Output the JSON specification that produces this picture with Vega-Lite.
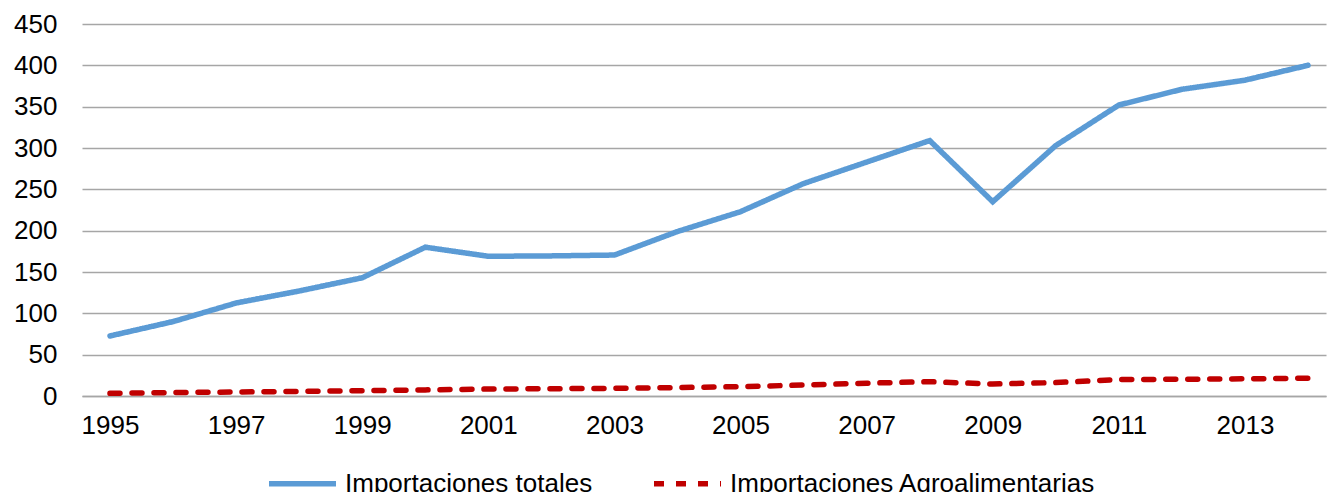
{
  "$schema": "https://vega.github.io/schema/vega-lite/v6.json",
  "autosize": "none",
  "width": 1244,
  "height": 372,
  "padding": {"left": 82, "top": 24, "right": 3, "bottom": 96},
  "background": "white",
  "config": {
    "view": {"stroke": null},
    "font": "Liberation Sans"
  },
  "data": {
    "values": [
      {"year": 1995, "series": "Importaciones totales", "value": 72.6},
      {"year": 1996, "series": "Importaciones totales", "value": 90},
      {"year": 1997, "series": "Importaciones totales", "value": 112.5},
      {"year": 1998, "series": "Importaciones totales", "value": 127},
      {"year": 1999, "series": "Importaciones totales", "value": 143},
      {"year": 2000, "series": "Importaciones totales", "value": 180},
      {"year": 2001, "series": "Importaciones totales", "value": 169},
      {"year": 2002, "series": "Importaciones totales", "value": 169.5},
      {"year": 2003, "series": "Importaciones totales", "value": 170.5},
      {"year": 2004, "series": "Importaciones totales", "value": 199},
      {"year": 2005, "series": "Importaciones totales", "value": 223},
      {"year": 2006, "series": "Importaciones totales", "value": 257},
      {"year": 2007, "series": "Importaciones totales", "value": 283},
      {"year": 2008, "series": "Importaciones totales", "value": 309},
      {"year": 2009, "series": "Importaciones totales", "value": 235},
      {"year": 2010, "series": "Importaciones totales", "value": 303},
      {"year": 2011, "series": "Importaciones totales", "value": 352},
      {"year": 2012, "series": "Importaciones totales", "value": 371},
      {"year": 2013, "series": "Importaciones totales", "value": 382},
      {"year": 2014, "series": "Importaciones totales", "value": 400},
      {"year": 1995, "series": "Importaciones Agroalimentarias", "value": 3.2},
      {"year": 1996, "series": "Importaciones Agroalimentarias", "value": 4.2},
      {"year": 1997, "series": "Importaciones Agroalimentarias", "value": 4.8},
      {"year": 1998, "series": "Importaciones Agroalimentarias", "value": 5.6},
      {"year": 1999, "series": "Importaciones Agroalimentarias", "value": 6.4},
      {"year": 2000, "series": "Importaciones Agroalimentarias", "value": 7.4},
      {"year": 2001, "series": "Importaciones Agroalimentarias", "value": 8.4},
      {"year": 2002, "series": "Importaciones Agroalimentarias", "value": 8.8},
      {"year": 2003, "series": "Importaciones Agroalimentarias", "value": 9.3},
      {"year": 2004, "series": "Importaciones Agroalimentarias", "value": 10.2},
      {"year": 2005, "series": "Importaciones Agroalimentarias", "value": 11.3},
      {"year": 2006, "series": "Importaciones Agroalimentarias", "value": 13.3},
      {"year": 2007, "series": "Importaciones Agroalimentarias", "value": 15.5},
      {"year": 2008, "series": "Importaciones Agroalimentarias", "value": 17.3},
      {"year": 2009, "series": "Importaciones Agroalimentarias", "value": 14.5},
      {"year": 2010, "series": "Importaciones Agroalimentarias", "value": 16.2},
      {"year": 2011, "series": "Importaciones Agroalimentarias", "value": 20},
      {"year": 2012, "series": "Importaciones Agroalimentarias", "value": 20.2},
      {"year": 2013, "series": "Importaciones Agroalimentarias", "value": 20.8},
      {"year": 2014, "series": "Importaciones Agroalimentarias", "value": 21.5}
    ]
  },
  "mark": {"type": "line", "strokeWidth": 5.5, "strokeCap": "round", "strokeJoin": "miter"},
  "encoding": {
    "x": {
      "field": "year",
      "type": "quantitative",
      "scale": {"domain": [1994.556, 2014.285], "nice": false, "zero": false},
      "axis": {
        "title": null,
        "values": [1995, 1997, 1999, 2001, 2003, 2005, 2007, 2009, 2011, 2013],
        "format": "d",
        "grid": false,
        "ticks": false,
        "domain": true,
        "domainColor": "#A6A6A6",
        "domainWidth": 1.3,
        "labelFontSize": 26,
        "labelColor": "#000000",
        "labelPadding": 16,
        "labelFlush": false
      }
    },
    "y": {
      "field": "value",
      "type": "quantitative",
      "scale": {"domain": [0, 450], "nice": false},
      "axis": {
        "title": null,
        "values": [0, 50, 100, 150, 200, 250, 300, 350, 400, 450],
        "grid": true,
        "gridColor": "#A6A6A6",
        "gridWidth": 1.3,
        "ticks": false,
        "domain": false,
        "labelFontSize": 26,
        "labelColor": "#000000",
        "labelPadding": 25
      }
    },
    "color": {
      "field": "series",
      "type": "nominal",
      "scale": {
        "domain": ["Importaciones totales", "Importaciones Agroalimentarias"],
        "range": ["#5B9BD5", "#C00000"]
      },
      "legend": {
        "title": null,
        "orient": "none",
        "direction": "horizontal",
        "legendX": 184,
        "legendY": 423,
        "symbolType": "stroke",
        "symbolSize": 4489,
        "symbolStrokeWidth": 5.5,
        "labelFontSize": 26,
        "labelColor": "#000000",
        "labelOffset": 6,
        "columnPadding": 50,
        "labelLimit": 500
      }
    },
    "strokeDash": {
      "field": "series",
      "type": "nominal",
      "scale": {
        "domain": ["Importaciones totales", "Importaciones Agroalimentarias"],
        "range": [[1, 0], [10, 12]]
      },
      "legend": null
    }
  }
}
